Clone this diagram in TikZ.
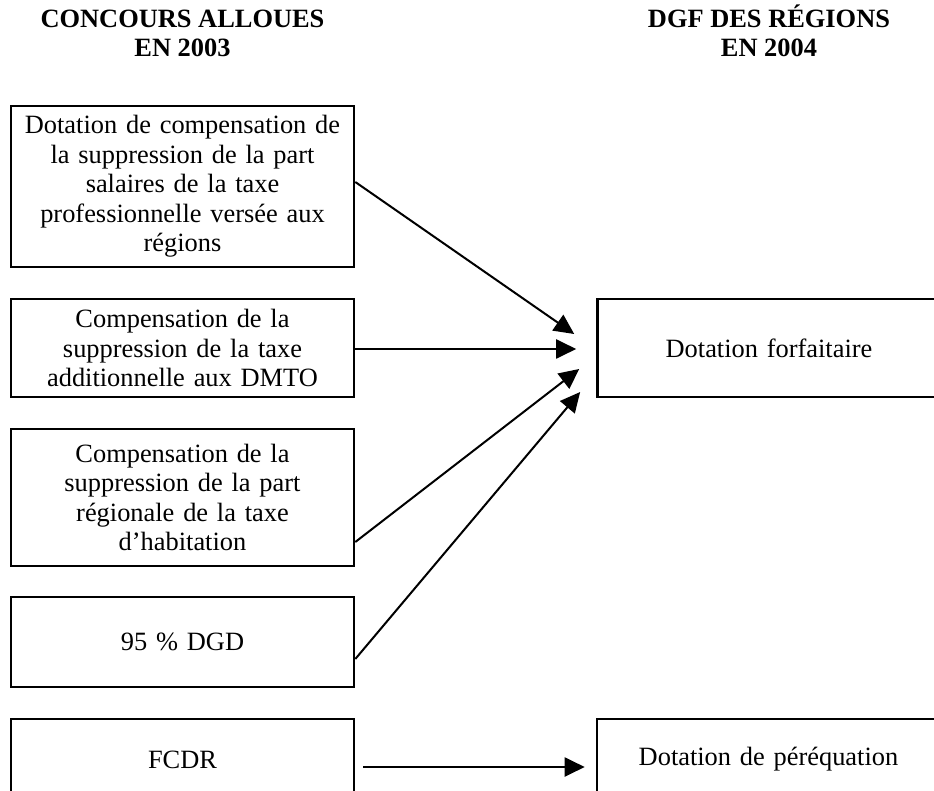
\documentclass[tikz,border=0pt]{standalone}
\usepackage{fontspec}
\setmainfont{Liberation Serif}
\usetikzlibrary{arrows.meta}
\begin{document}
\begin{tikzpicture}[x=1pt,y=-1pt,
  every node/.style={font=\fontsize{26.4pt}{29.5pt}\selectfont},
  srcbox/.style={draw, line width=2.6pt, minimum width=343pt, inner sep=0pt,
    align=center, text width=330pt},
  head/.style={font=\fontsize{26.4pt}{29pt}\selectfont\bfseries, align=center, inner sep=0pt},
  flow/.style={line width=2pt, -{Triangle[length=20pt,width=19pt]}}]
\useasboundingbox (0,0) rectangle (934,791);

% column headings (base anchor sits on the last line)
\node[head, anchor=base] (h1) at (182.5,57) {CONCOURS ALLOUES\\EN 2003};
\node[head, anchor=base] (h2) at (769,57) {DGF DES RÉGIONS\\EN 2004};

% contributions allotted in 2003
\node[srcbox, minimum height=161pt] (b1) at (182.5,186.5)
  {Dotation de compensation de\\la suppression de la part\\salaires de la taxe\\professionnelle versée aux\\régions};
\node[srcbox, minimum height=98pt] (b2) at (182.5,348)
  {Compensation de la\\suppression de la taxe\\additionnelle aux DMTO};
\node[srcbox, minimum height=137pt] (b3) at (182.5,497.5)
  {Compensation de la\\suppression de la part\\régionale de la taxe\\d’habitation};
\node[srcbox, minimum height=90pt] (b4) at (182.5,642) {95 \% DGD};
\node[srcbox, minimum height=81pt] (b5) at (182.5,759.5) {FCDR};

% 2004 regional grant
\node[srcbox, minimum height=98pt] (r1) at (769,348) {Dotation forfaitaire};
\node[srcbox, minimum height=81pt] (r2) at (768.5,759.5) {Dotation de péréquation};

% arrow tips in front of the lump-sum grant
\coordinate (t1) at ([xshift=-22pt,yshift=14pt]r1.west);
\coordinate (t2) at ([xshift=-20pt,yshift=-1pt]r1.west);
\coordinate (t3) at ([xshift=-17pt,yshift=-21pt]r1.west);
\coordinate (t4) at ([xshift=-16pt,yshift=-44pt]r1.west);
\coordinate (s5) at ([xshift=8pt,yshift=-7.5pt]b5.east);
\coordinate (t5) at ([xshift=-11pt,yshift=-7.5pt]r2.west);

\draw[flow] ([yshift=4.5pt]b1.east) -- (t1);
\draw[flow] ([yshift=-1pt]b2.east) -- (t2);
\draw[flow] ([yshift=-44.5pt]b3.east) -- (t3);
\draw[flow] ([yshift=-17pt]b4.east) -- (t4);
\draw[flow] (s5) -- (t5);
\end{tikzpicture}
\end{document}
